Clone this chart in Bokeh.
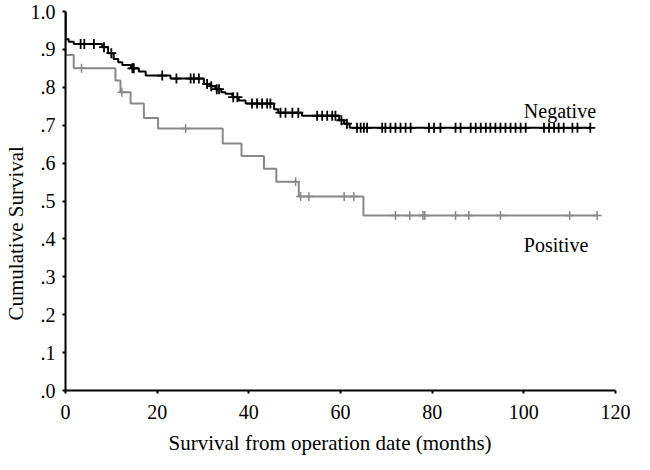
import numpy as np
from bokeh.plotting import figure
from bokeh.models import Range1d, FixedTicker, ColumnDataSource, Title
from bokeh.core.properties import value
from bokeh.embed import file_html
from bokeh.resources import INLINE

# ---- data ----
neg_t = [0, 0, 0.7, 1.8, 8.0, 9.3, 10.5, 11.5, 12.4, 14.3, 16.0, 17.5, 22.9, 30.2, 31.5,
         32.7, 34.0, 34.9, 36.4, 37.8, 39.3, 45.5, 46.4, 51.6, 59.7, 60.8, 62.0, 114.5]
neg_s = [1.0, 0.927, 0.920, 0.914, 0.906, 0.890, 0.875, 0.866, 0.859, 0.850, 0.842, 0.831,
         0.823, 0.809, 0.803, 0.795, 0.787, 0.783, 0.774, 0.765, 0.757, 0.742, 0.733, 0.725,
         0.713, 0.704, 0.693, 0.693]
neg_cens = [3.3, 4.1, 6.2, 8.4, 10.0, 14.6, 14.9, 21.1, 24.2, 27.3, 28.0, 29.1, 30.9, 31.8,
            33.0, 33.5, 36.6, 37.5, 40.7, 41.8, 42.9, 44.0, 44.7, 46.9, 48.0, 49.5, 50.8,
            54.9, 56.0, 57.1, 58.2, 58.9, 60.2, 61.4,
            63.6, 64.4, 65.1, 65.8, 69.1, 69.8, 70.9, 72.0, 73.1, 74.2, 75.3, 79.3, 80.4,
            81.8, 85.1, 86.2, 88.4, 89.5, 90.6, 91.7, 92.7, 93.8, 94.9, 96.0, 97.1, 98.2,
            99.3, 100.4, 104.4, 105.5, 106.6, 107.6, 108.7, 110.6, 111.7, 114.5]

pos_t = [0, 0, 1.8, 10.9, 12.0, 14.2, 17.1, 20.2, 34.3, 38.4, 43.3, 46.0, 50.9, 65.0, 116.0]
pos_s = [1.0, 0.885, 0.850, 0.818, 0.787, 0.757, 0.719, 0.691, 0.652, 0.619, 0.585, 0.551,
         0.512, 0.462, 0.462]
pos_cens = [3.5, 12.3, 26.2, 50.2, 51.3, 53.1, 60.8, 62.9, 72.0, 75.1, 78.0, 78.4, 85.1,
            88.0, 94.9, 110.0, 116.0]

x_ticks = [0, 20, 40, 60, 80, 100, 120]
y_ticks = [0.0, 0.1, 0.2, 0.3, 0.4, 0.5, 0.6, 0.7, 0.8, 0.9, 1.0]
y_tick_labels = [".0", ".1", ".2", ".3", ".4", ".5", ".6", ".7", ".8", ".9", "1.0"]

labels_text = ["Negative", "Positive"]
labels_x = [100, 100]
labels_y = [0.7375, 0.383]

x_title = "Survival from operation date (months)"
y_title = "Cumulative Survival"


def level_at(ts, times, levels):
    times = np.asarray(times)
    idx = np.searchsorted(times, np.asarray(ts), side="right") - 1
    return list(np.asarray(levels)[idx])


FONT = "Liberation Serif"
BLACK = "#000000"
GRAY = "#888888"

p = figure(width=634, height=462, x_range=Range1d(0, 120), y_range=Range1d(0, 1.0),
           output_backend="svg", toolbar_location=None,
           min_border_left=65, min_border_right=19, min_border_top=11, min_border_bottom=70)
p.outline_line_color = None
p.xgrid.visible = False
p.ygrid.visible = False
p.background_fill_color = "white"
p.border_fill_color = "white"

# curves
p.step(pos_t, pos_s, mode="after", line_color=GRAY, line_width=2)
p.scatter(pos_cens, level_at(pos_cens, pos_t, pos_s), marker="cross", size=9,
          line_color=GRAY, line_width=1.5)
p.step(neg_t, neg_s, mode="after", line_color=BLACK, line_width=2)
p.scatter(neg_cens, level_at(neg_cens, neg_t, neg_s), marker="cross", size=10,
          line_color=BLACK, line_width=1.8)

# curve labels
src = ColumnDataSource(dict(x=labels_x, y=labels_y, t=labels_text))
p.text(x="x", y="y", text="t", source=src, text_font=value(FONT), text_font_size="20px",
       text_color=BLACK, text_align="left", text_baseline="alphabetic")

# axes
for ax in (p.xaxis[0], p.yaxis[0]):
    ax.axis_line_width = 2
    ax.axis_line_color = BLACK
    ax.major_tick_line_width = 2
    ax.major_tick_line_color = BLACK
    ax.major_tick_out = 3
    ax.major_tick_in = 0
    ax.minor_tick_line_color = None
    ax.major_label_text_font = FONT
    ax.major_label_text_font_size = "20px"
    ax.major_label_text_color = BLACK

p.xaxis.ticker = FixedTicker(ticks=x_ticks)
p.yaxis.ticker = FixedTicker(ticks=y_ticks)
p.yaxis.major_label_overrides = {t: l for t, l in zip(y_ticks, y_tick_labels)}
p.xaxis.major_label_standoff = 11
p.yaxis.major_label_standoff = 7

# axis titles, slightly off-centre as in the reference
p.add_layout(Title(text=x_title, align="left", offset=103, standoff=15,
                   text_font=FONT, text_font_size="21px", text_font_style="normal",
                   text_color=BLACK), "below")
p.add_layout(Title(text=y_title, align="left", offset=70, standoff=0,
                   text_font=FONT, text_font_size="21px", text_font_style="normal",
                   text_color=BLACK), "left")

open("out.html", "w").write(file_html(p, INLINE))
